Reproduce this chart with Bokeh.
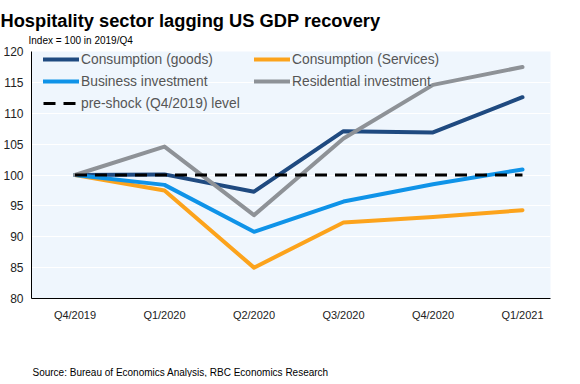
from bokeh.plotting import figure
from bokeh.models import Range1d, FixedTicker, Legend, LegendItem, Title
from bokeh.embed import file_html
from bokeh.resources import INLINE

quarters = ["Q4/2019", "Q1/2020", "Q2/2020", "Q3/2020", "Q4/2020", "Q1/2021"]
goods = [100, 100.1, 97.3, 107.1, 106.9, 112.6]
services = [100, 97.5, 85.0, 92.3, 93.2, 94.3]
business = [100, 98.4, 90.8, 95.7, 98.5, 100.9]
residential = [100, 104.6, 93.5, 105.9, 114.6, 117.5]
preshock = [100, 100, 100, 100, 100, 100]
y_ticks = [80, 85, 90, 95, 100, 105, 110, 115, 120]

FONT = "Liberation Sans"
xs = list(range(len(quarters)))
FH = 247

p = figure(frame_width=519, frame_height=FH, output_backend="svg", toolbar_location=None,
           x_range=Range1d(-0.486, 5.313), y_range=Range1d(80, 120),
           min_border_left=28, min_border_right=17, min_border_top=51, min_border_bottom=20)
p.background_fill_color = "#eff6fd"
p.border_fill_color = "white"
p.outline_line_color = None

line_kw = dict(line_width=4, line_cap="round", line_join="round")
l_goods = p.line(xs, goods, line_color="#1f4a80", **line_kw)
l_serv = p.line(xs, services, line_color="#fca31c", **line_kw)
l_bus = p.line(xs, business, line_color="#0f93e8", **line_kw)
l_res = p.line(xs, residential, line_color="#8e9297", **line_kw)
l_pre = p.line(xs, preshock, line_color="black", line_width=3, line_dash="12 8")

p.xaxis.ticker = FixedTicker(ticks=xs)
p.xaxis.major_label_overrides = {i: q for i, q in zip(xs, quarters)}
p.yaxis.ticker = FixedTicker(ticks=y_ticks)
for ax in (p.xaxis[0], p.yaxis[0]):
    ax.axis_line_color = "black"
    ax.axis_line_width = 1
    ax.major_tick_line_color = None
    ax.minor_tick_line_color = None
    ax.major_tick_out = 0
    ax.major_tick_in = 0
    ax.major_label_text_font = FONT
    ax.major_label_text_color = "#222222"
p.xaxis.major_label_text_font_size = "11px"
p.yaxis.major_label_text_font_size = "12px"
p.xaxis.major_label_standoff = 10
p.yaxis.major_label_standoff = 8
p.xgrid.grid_line_color = None
p.ygrid.ticker = FixedTicker(ticks=y_ticks)
p.ygrid.grid_line_color = "white"
p.ygrid.grid_line_width = 1

leg1 = Legend(items=[LegendItem(label="Consumption (goods)", renderers=[l_goods]),
                     LegendItem(label="Business investment", renderers=[l_bus]),
                     LegendItem(label="pre-shock (Q4/2019) level", renderers=[l_pre])],
              location=(12, FH - 60))
leg2 = Legend(items=[LegendItem(label="Consumption (Services)", renderers=[l_serv]),
                     LegendItem(label="Residential investment", renderers=[l_res])],
              location=(223, FH - 38))
for lg in (leg1, leg2):
    lg.background_fill_alpha = 0
    lg.border_line_color = None
    lg.padding = 0
    lg.margin = 0
    lg.spacing = 6
    lg.glyph_width = 36
    lg.glyph_height = 16
    lg.label_height = 16
    lg.label_standoff = 2
    lg.label_text_font = FONT
    lg.label_text_font_size = "13.8px"
    lg.label_text_color = "#555555"
    p.add_layout(lg, "center")

p.add_layout(Title(text="Index = 100 in 2019/Q4", align="left", offset=-3,
                   text_font=FONT, text_font_size="10px", text_font_style="normal",
                   text_color="black", standoff=8, vertical_align="top"), "above")
p.add_layout(Title(text="Hospitality sector lagging US GDP recovery", align="left", offset=-31,
                   text_font=FONT, text_font_size="18.3px", text_font_style="bold",
                   text_color="black", standoff=0), "above")
p.add_layout(Title(text=" ", text_font_size="1px", standoff=38), "below")
p.add_layout(Title(text="Source: Bureau of Economics Analysis, RBC Economics Research", align="left",
                   offset=1, text_font=FONT, text_font_size="10px", text_font_style="normal",
                   text_color="black", standoff=0), "below")

open("out.html", "w").write(file_html(p, INLINE))
